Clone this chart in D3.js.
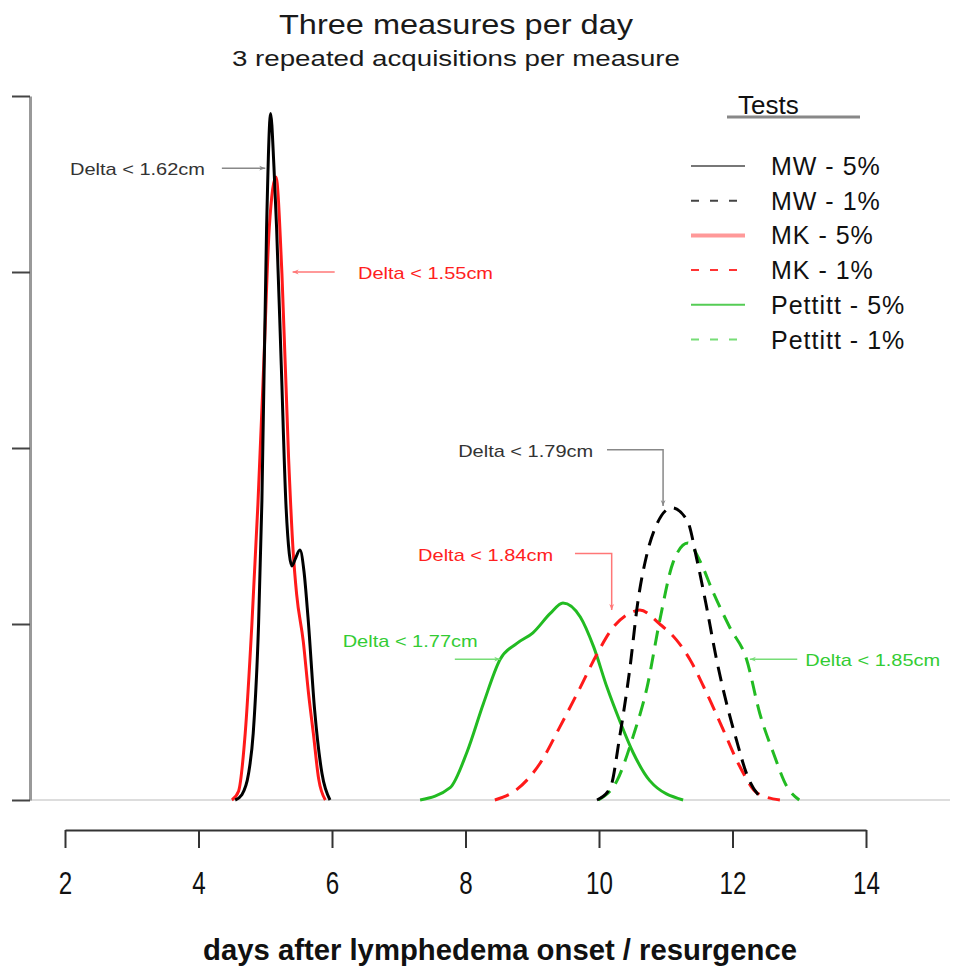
<!DOCTYPE html>
<html>
<head>
<meta charset="utf-8">
<script src="https://cdn.jsdelivr.net/npm/d3@7"></script>
<style>
  body { margin: 0; background: #fff; }
  text { font-family: "Liberation Sans", Arial, sans-serif; }
</style>
</head>
<body>
<div id="chart"></div>
<script>
// density curves: [day, density]
const mw5 = [[4.55,0],[4.65,0.03],[4.75,0.15],[4.82,0.38],[4.9,1.0],[4.95,1.7],[5.02,3.25],[5.08,3.9],[5.13,3.6],[5.17,3.25],[5.24,2.47],[5.31,1.68],[5.36,1.4],[5.40,1.33],[5.45,1.37],[5.52,1.42],[5.58,1.3],[5.64,1.04],[5.74,0.51],[5.85,0.15],[5.97,0]]
const mk5 = [[4.5,0],[4.6,0.05],[4.7,0.38],[4.8,1.0],[4.89,1.68],[4.98,2.5],[5.06,3.25],[5.16,3.54],[5.25,2.99],[5.35,1.94],[5.42,1.4],[5.47,1.17],[5.57,0.9],[5.65,0.6],[5.72,0.38],[5.8,0.12],[5.9,0]]
const pet5 = [[7.32,0],[7.77,0.07],[8.02,0.27],[8.27,0.55],[8.52,0.8],[8.77,0.89],[9.01,0.95],[9.27,1.06],[9.46,1.12],[9.72,1.04],[9.92,0.87],[10.12,0.64],[10.31,0.45],[10.51,0.27],[10.76,0.11],[11.26,0]]
const mk1 = [[8.44,0],[8.77,0.06],[9.12,0.21],[9.42,0.42],[9.72,0.64],[9.97,0.83],[10.21,0.98],[10.51,1.07],[10.61,1.08],[10.91,1.0],[11.16,0.91],[11.36,0.8],[11.61,0.61],[11.86,0.4],[12.11,0.19],[12.37,0.04],[12.71,0]]
const mw1 = [[9.97,0],[10.17,0.07],[10.31,0.36],[10.46,0.74],[10.58,1.12],[10.72,1.4],[10.87,1.57],[11.09,1.66],[11.32,1.59],[11.47,1.36],[11.61,1.1],[11.76,0.8],[11.91,0.55],[12.06,0.34],[12.21,0.15],[12.41,0.02],[12.49,0]]
const pet1 = [[9.99,0],[10.27,0.11],[10.51,0.36],[10.72,0.64],[10.91,1.02],[11.11,1.35],[11.33,1.46],[11.51,1.36],[11.71,1.18],[11.96,0.98],[12.21,0.8],[12.41,0.49],[12.61,0.27],[12.81,0.08],[13.0,0]]

const xTicks = [2, 4, 6, 8, 10, 12, 14]
const yTicks = [0, 1, 2, 3, 4]

const seriesNames = ['MW - 5%', 'MW - 1%', 'MK - 5%', 'MK - 1%', 'Pettitt - 5%', 'Pettitt - 1%']
const seriesData = [mw5, mw1, mk5, mk1, pet5, pet1]
const curveColors = ['#000000', '#000000', '#ff1a1a', '#ff1a1a', '#22bb22', '#22bb22']
const legendColors = ['#777777', '#444444', '#ff9999', '#ff3333', '#55cc55', '#77dd77']
const dashed = [false, true, false, true, false, true]

// annotations: text, text position [day, density], arrow path [[day, density], ...]
const annoText = ['Delta < 1.62cm', 'Delta < 1.55cm', 'Delta < 1.79cm', 'Delta < 1.84cm', 'Delta < 1.77cm', 'Delta < 1.85cm']
const annoPos = [[2.075, 3.55], [6.39, 2.96], [7.89, 1.95], [7.29, 1.36], [6.16, 0.87], [13.09, 0.76]]
const annoArrow = [
    [[4.35, 3.59], [5.0, 3.59]],
    [[6.04, 3.0], [5.41, 3.0]],
    [[10.12, 1.99], [10.96, 1.99], [10.96, 1.67]],
    [[9.64, 1.40], [10.19, 1.40], [10.19, 1.08]],
    [[7.84, 0.80], [8.52, 0.80]],
    [[12.97, 0.80], [12.26, 0.80]]
]
const annoColor = ['#333333', '#ff2020', '#333333', '#ff2020', '#33cc33', '#33cc33']
const arrowColor = ['#888888', '#ff7777', '#888888', '#ff7777', '#77dd77', '#77dd77']

const width = 956, height = 967

const svg = d3.select('#chart').append('svg')
    .attr('width', width)
    .attr('height', height)

const x = d3.scaleLinear().domain([2, 14]).range([65, 866])
const y = d3.scaleLinear().domain([0, 4]).range([800, 96])

// titles
svg.append('text')
    .attr('x', 456).attr('y', 34)
    .attr('text-anchor', 'middle')
    .style('font-size', '28px').style('fill', '#1a1a1a')
    .attr('textLength', 354).attr('lengthAdjust', 'spacingAndGlyphs')
    .text('Three measures per day')
svg.append('text')
    .attr('x', 456).attr('y', 66)
    .attr('text-anchor', 'middle')
    .style('font-size', '22px').style('fill', '#1a1a1a')
    .attr('textLength', 448).attr('lengthAdjust', 'spacingAndGlyphs')
    .text('3 repeated acquisitions per measure')

// baseline
svg.append('line')
    .attr('x1', 30).attr('x2', 950)
    .attr('y1', y(0)).attr('y2', y(0))
    .style('stroke', '#dddddd').style('stroke-width', 2)

// y axis, no labels
const yAxis = svg.append('g')
    .attr('transform', 'translate(30,0)')
    .call(d3.axisLeft(y).tickValues(yTicks).tickSize(18).tickSizeOuter(0).tickFormat(''))
yAxis.select('.domain').style('stroke', '#999').style('stroke-width', 3)
yAxis.selectAll('.tick line').style('stroke', '#444').style('stroke-width', 2)

// x axis
const xAxis = svg.append('g')
    .attr('transform', 'translate(0,830)')
    .call(d3.axisBottom(x).tickValues(xTicks).tickSize(18).tickSizeOuter(0).tickPadding(24))
xAxis.select('.domain').style('stroke', '#333').style('stroke-width', 2)
xAxis.selectAll('.tick line').style('stroke', '#333').style('stroke-width', 2)
// the original labels are tall and narrow, squeeze them horizontally
xAxis.selectAll('.tick text')
    .style('font-size', '31px').style('fill', '#111')
    .attr('transform', 'scale(0.78,1)')

svg.append('text')
    .attr('x', 500).attr('y', 960)
    .attr('text-anchor', 'middle')
    .style('font-weight', 'bold').style('font-size', '30px').style('fill', '#111')
    .attr('textLength', 594).attr('lengthAdjust', 'spacingAndGlyphs')
    .text('days after lymphedema onset / resurgence')

// curves
const line = d3.line()
    .x(d => x(d[0]))
    .y(d => y(d[1]))
    .curve(d3.curveMonotoneX)

// draw green first so black/red sit on top like the original
const drawOrder = [4, 5, 3, 1, 2, 0]
drawOrder.forEach(i => {
    svg.append('path')
        .datum(seriesData[i])
        .attr('d', line)
        .style('fill', 'none')
        .style('stroke', curveColors[i])
        .style('stroke-width', 3)
        .style('stroke-dasharray', dashed[i] ? '15,9' : null)
})

// arrow markers
const defs = svg.append('defs')
arrowColor.forEach((c, i) => {
    defs.append('marker')
        .attr('id', 'arrow' + i)
        .attr('viewBox', '0 0 10 10')
        .attr('refX', 10).attr('refY', 5)
        .attr('markerWidth', 10).attr('markerHeight', 6)
        .attr('markerUnits', 'userSpaceOnUse')
        .attr('orient', 'auto')
        .append('path')
        .attr('d', 'M0,1 L10,5 L0,9 L3,5 Z')
        .style('fill', c)
})

const arrowLine = d3.line().x(d => x(d[0])).y(d => y(d[1]))

annoText.forEach((t, i) => {
    svg.append('path')
        .attr('d', arrowLine(annoArrow[i]))
        .style('fill', 'none')
        .style('stroke', arrowColor[i])
        .style('stroke-width', 1.5)
        .attr('marker-end', 'url(#arrow' + i + ')')
    svg.append('text')
        .attr('x', x(annoPos[i][0])).attr('y', y(annoPos[i][1]))
        .style('font-size', '17px').style('fill', annoColor[i])
        .attr('textLength', 135).attr('lengthAdjust', 'spacingAndGlyphs')
        .text(t)
})

// legend
const legend = svg.append('g').attr('transform', 'translate(691,166)')
legend.append('text')
    .attr('x', 47).attr('y', -52)
    .style('font-size', '26px').style('fill', '#111')
    .text('Tests')
legend.append('line')
    .attr('x1', 36).attr('x2', 169)
    .attr('y1', -49).attr('y2', -49)
    .style('stroke', '#888').style('stroke-width', 3)

seriesNames.forEach((name, i) => {
    const g = legend.append('g').attr('transform', `translate(0,${i * 34.7})`)
    g.append('line')
        .attr('x1', 0).attr('x2', 54)
        .style('stroke', legendColors[i])
        .style('stroke-width', i === 2 ? 4 : 2)
        .style('stroke-dasharray', dashed[i] ? '8,11' : null)
    g.append('text')
        .attr('x', 80).attr('y', 9)
        .style('font-size', '25px').style('fill', '#111')
        .style('letter-spacing', '1px')
        .text(name)
})
</script>
</body>
</html>
